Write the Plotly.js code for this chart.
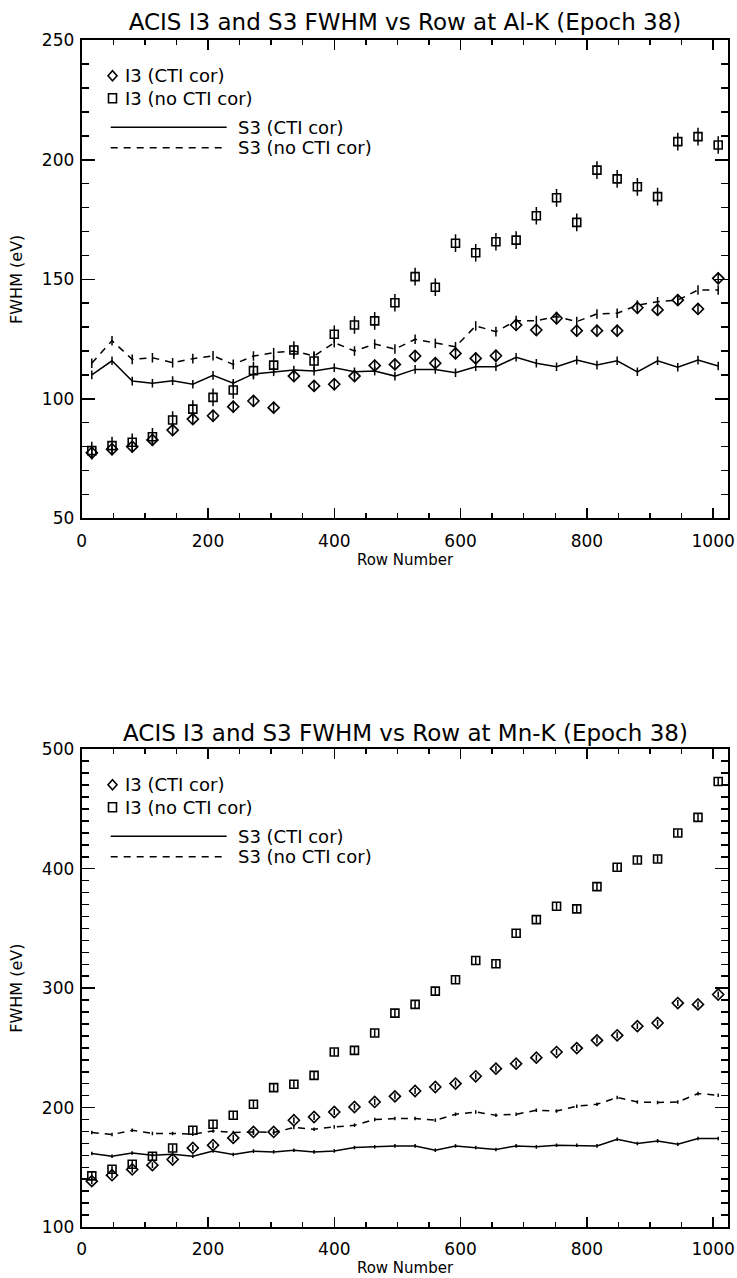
<!DOCTYPE html>
<html>
<head>
<meta charset="utf-8">
<script src="https://cdn.plot.ly/plotly-3.0.1.min.js"></script>
<style>html,body{margin:0;padding:0;background:#fff;}</style>
</head>
<body>
<div id="chart" style="width:737px;height:1278px;"></div>
<script>
// ---- data ----
const rows = [16,48,80,112,144,176,208,240,272,304,336,368,400,432,464,496,528,560,592,624,656,688,720,752,784,816,848,880,912,944,976,1008];

// Al-K (top panel)
const alI3Cti   = [77.4,78.9,80.0,82.8,86.9,91.5,92.9,96.7,99.1,96.3,109.5,105.4,106.1,109.5,113.9,114.4,117.9,114.9,119.0,116.9,118.0,130.9,128.8,133.7,128.5,128.5,128.5,138.1,137.2,141.3,137.6,150.4];
const alI3NoCti = [78.3,80.4,81.8,84.1,91.1,95.7,100.6,103.7,111.8,114.1,120.4,115.8,127.0,130.9,132.6,140.2,151.1,146.7,165.1,161.1,165.7,166.4,176.6,184.1,173.8,195.7,192.0,188.7,184.6,207.6,209.7,206.2];
const alS3Cti   = [110.0,115.9,107.4,106.5,107.6,106.1,109.8,106.5,110.4,111.3,112.0,111.6,113.0,111.3,111.6,109.5,112.3,112.3,110.9,113.4,113.4,117.4,114.9,113.4,116.2,114.1,115.9,111.3,115.9,113.2,116.2,113.7];
const alS3NoCti = [114.9,124.3,116.5,117.2,115.1,116.8,118.0,114.4,117.9,119.3,120.0,117.9,123.5,120.0,122.9,120.8,124.9,123.2,121.8,130.5,128.1,132.7,132.7,134.4,132.3,135.5,135.8,139.2,140.6,141.3,145.5,145.5];
const alErrI3Cti = 2.5, alErrI3NoCti = 3.7, alErrS3Cti = 1.8, alErrS3NoCti = 2.0;

// Mn-K (bottom panel)
const mnI3Cti   = [138.4,143.4,148.2,151.8,156.5,166.2,168.5,174.6,179.6,179.6,189.4,192.1,196.3,200.5,204.7,209.4,213.9,217.2,220.1,226.2,232.6,236.8,241.8,246.5,249.8,256.3,260.5,268.2,270.8,287.5,286.4,294.7];
const mnI3NoCti = [142.8,148.4,152.6,159.3,166.2,181.0,186.0,193.6,202.8,216.7,219.5,227.0,246.5,247.9,262.4,279.1,286.4,297.5,307.0,323.2,320.4,346.0,357.4,368.6,366.4,385.0,401.2,407.3,408.2,429.9,443.0,473.1];
const mnS3Cti   = [161.5,159.3,162.0,160.1,161.0,159.3,163.7,160.7,163.5,162.9,164.3,162.9,163.7,166.5,167.1,167.9,167.9,164.3,167.9,166.5,164.9,167.9,167.1,168.5,168.5,167.9,173.5,169.9,172.1,169.3,174.1,174.1];
const mnS3NoCti = [179.1,177.4,181.0,178.3,178.3,177.7,180.4,179.1,179.6,179.1,183.3,181.9,183.8,185.2,190.0,190.8,190.8,189.4,194.4,196.3,193.6,194.4,197.7,197.2,201.1,202.8,208.4,204.7,204.2,204.7,211.7,210.3];
const mnErrI3Cti = 2.5, mnErrI3NoCti = 3.0, mnErrS3Cti = 1.5, mnErrS3NoCti = 1.5;

const titles = ["ACIS I3 and S3 FWHM vs Row at Al-K (Epoch 38)", "ACIS I3 and S3 FWHM vs Row at Mn-K (Epoch 38)"];
const legendLabels = ["I3 (CTI cor)", "I3 (no CTI cor)", "S3 (CTI cor)", "S3 (no CTI cor)"];
const xTitle = "Row Number";
const yTitle = "FWHM (eV)";

// ---- layout geometry (px) ----
const FIG_W = 737, FIG_H = 1278;
const PL = 81.7, PR = 728.3;
const panels = [{top: 40.3, bottom: 518.3, range: [50, 250], dtick: 50, titleY: 22},
                {top: 749.3, bottom: 1227.0, range: [100, 500], dtick: 100, titleY: 733}];
const W = PR - PL;

const FONT = "DejaVu Sans, Liberation Sans, Arial, sans-serif";
const BLACK = "#000";

function err(v) { return {type: 'constant', value: v, visible: true, color: BLACK, thickness: 1.5, width: 0}; }

const traces = [];
const sets = [
  {x: 'x', y: 'y', d: [alI3Cti, alI3NoCti, alS3Cti, alS3NoCti], e: [alErrI3Cti, alErrI3NoCti, alErrS3Cti, alErrS3NoCti]},
  {x: 'x2', y: 'y2', d: [mnI3Cti, mnI3NoCti, mnS3Cti, mnS3NoCti], e: [mnErrI3Cti, mnErrI3NoCti, mnErrS3Cti, mnErrS3NoCti]}
];
sets.forEach(s => {
  traces.push({x: rows, y: s.d[2], xaxis: s.x, yaxis: s.y, mode: 'lines', name: legendLabels[2], showlegend: false,
    line: {color: BLACK, width: 1.5}, error_y: err(s.e[2])});
  traces.push({x: rows, y: s.d[3], xaxis: s.x, yaxis: s.y, mode: 'lines', name: legendLabels[3], showlegend: false,
    line: {color: BLACK, width: 1.5, dash: '7px,6px'}, error_y: err(s.e[3])});
  traces.push({x: rows, y: s.d[0], xaxis: s.x, yaxis: s.y, mode: 'markers', name: legendLabels[0], showlegend: false,
    marker: {symbol: 'diamond-open', size: 8.5, color: BLACK, line: {width: 1.6, color: BLACK}}, error_y: err(s.e[0])});
  traces.push({x: rows, y: s.d[1], xaxis: s.x, yaxis: s.y, mode: 'markers', name: legendLabels[1], showlegend: false,
    marker: {symbol: 'square-open', size: 8, color: BLACK, line: {width: 1.6, color: BLACK}}, error_y: err(s.e[1])});
});

function xAxis(anchor) {
  return {domain: [PL / FIG_W, PR / FIG_W], anchor: anchor, range: [0, 1024], tick0: 0, dtick: 200,
    ticks: 'inside', ticklen: 10, tickwidth: 1.5, tickcolor: BLACK,
    minor: {dtick: 50, ticks: 'inside', ticklen: 5, tickwidth: 1.5, tickcolor: BLACK},
    showline: true, linewidth: 2, linecolor: BLACK, mirror: 'allticks', showgrid: false, zeroline: false,
    tickfont: {family: FONT, size: 17, color: BLACK}, ticklabelstandoff: 6, automargin: false,
    title: {text: xTitle, font: {family: FONT, size: 15, color: BLACK}, standoff: 2}};
}
function yAxis(anchor, p) {
  return {domain: [(FIG_H - p.bottom) / FIG_H, (FIG_H - p.top) / FIG_H], anchor: anchor, range: p.range, tick0: 0, dtick: p.dtick,
    ticks: 'inside', ticklen: 13, tickwidth: 1.5, tickcolor: BLACK,
    minor: {dtick: 10, ticks: 'inside', ticklen: 7, tickwidth: 1.5, tickcolor: BLACK},
    showline: true, linewidth: 2, linecolor: BLACK, mirror: 'allticks', showgrid: false, zeroline: false,
    tickfont: {family: FONT, size: 17, color: BLACK}, ticklabelstandoff: 2, automargin: false,
    title: {text: yTitle, font: {family: FONT, size: 16, color: BLACK}, standoff: 15}};
}

const shapes = [];
const annotations = [];
// legend drawn inside each panel (IDL-style)
const legRows = [35.5, 58, 87, 107.5];
panels.forEach((p, i) => {
  const H = p.bottom - p.top;
  const xr = i === 0 ? 'x domain' : 'x2 domain';
  const yr = i === 0 ? 'y domain' : 'y2 domain';
  const fy = dy => 1 - dy / H;
  const fx = dx => dx / W;
  // diamond symbol
  shapes.push({type: 'path', xref: xr, yref: yr, xsizemode: 'pixel', ysizemode: 'pixel',
    xanchor: fx(30.8), yanchor: fy(legRows[0]), path: 'M -4.5 0 L 0 5 L 4.5 0 L 0 -5 Z',
    line: {color: BLACK, width: 1.6}});
  // square symbol
  shapes.push({type: 'rect', xref: xr, yref: yr, xsizemode: 'pixel', ysizemode: 'pixel',
    xanchor: fx(30.8), yanchor: fy(legRows[1]), x0: -4, x1: 4, y0: -4.5, y1: 4.5,
    line: {color: BLACK, width: 1.6}});
  // solid & dashed line samples
  shapes.push({type: 'line', xref: xr, yref: yr, x0: fx(29), x1: fx(145), y0: fy(legRows[2]), y1: fy(legRows[2]),
    line: {color: BLACK, width: 1.5}});
  shapes.push({type: 'line', xref: xr, yref: yr, x0: fx(29), x1: fx(145), y0: fy(legRows[3]), y1: fy(legRows[3]),
    line: {color: BLACK, width: 1.5, dash: '7px,6px'}});
  const tx = [41.5, 41.5, 154, 154];
  legendLabels.forEach((t, k) => {
    annotations.push({text: t, xref: xr, yref: yr, x: fx(tx[k]), y: fy(legRows[k]), xanchor: 'left', yanchor: 'middle',
      showarrow: false, font: {family: FONT, size: 18, color: BLACK}});
  });
});
// bottom panel title
annotations.push({text: titles[1], xref: 'paper', yref: 'paper', x: (PL + PR) / 2 / FIG_W, y: (FIG_H - panels[1].titleY) / FIG_H,
  xanchor: 'center', yanchor: 'middle', showarrow: false, font: {family: FONT, size: 23, color: BLACK}});

const layout = {
  width: FIG_W, height: FIG_H, autosize: false,
  margin: {l: 0, r: 0, t: 0, b: 0, pad: 0},
  paper_bgcolor: '#fff', plot_bgcolor: '#fff',
  showlegend: false,
  title: {text: titles[0], font: {family: FONT, size: 23, color: BLACK}, x: (PL + PR) / 2 / FIG_W, xanchor: 'center',
    xref: 'paper', yref: 'paper', y: (FIG_H - panels[0].titleY) / FIG_H, yanchor: 'middle'},
  xaxis: xAxis('y'), yaxis: yAxis('x', panels[0]),
  xaxis2: xAxis('y2'), yaxis2: yAxis('x2', panels[1]),
  shapes: shapes, annotations: annotations
};

Plotly.newPlot('chart', traces, layout, {displayModeBar: false, staticPlot: true});
</script>
</body>
</html>
